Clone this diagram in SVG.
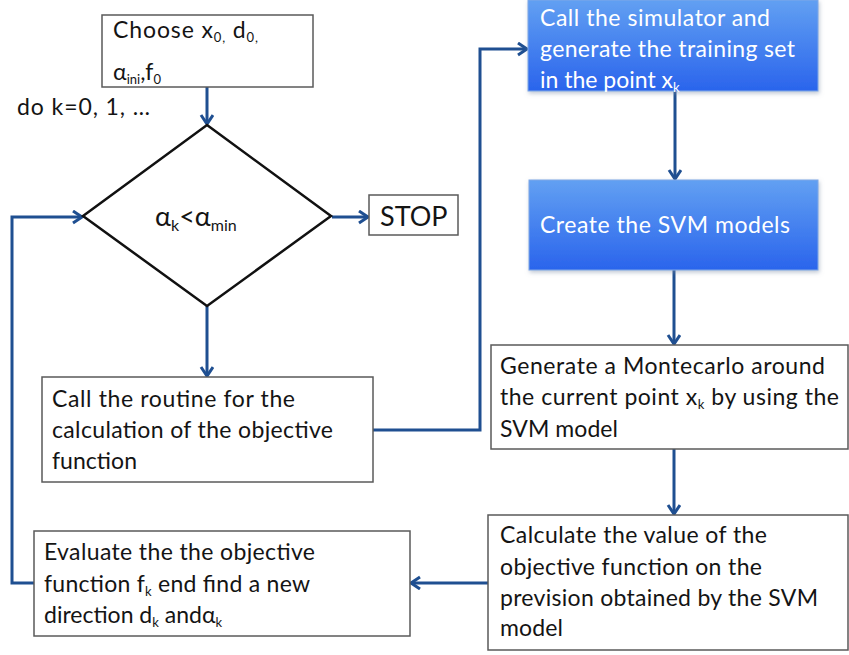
<svg xmlns="http://www.w3.org/2000/svg" width="849" height="655" viewBox="0 0 849 655">
<style>
  .box{fill:#ffffff;stroke:#5a5a5a;stroke-width:1.5}
  .blue{fill:url(#bg);stroke:#7fa8e6;stroke-width:1;filter:url(#sh)}
  .dia{fill:#ffffff;stroke:#111111;stroke-width:2.5}
  .t{font-family:Lato,"Liberation Sans",sans-serif;font-size:23px;fill:#141414}
  .s{font-family:Lato,"Liberation Sans",sans-serif;font-size:23px;fill:#141414}
  .d{font-family:Lato,"Liberation Sans",sans-serif;font-size:27px;fill:#141414}
  .w{font-family:Lato,"Liberation Sans",sans-serif;font-size:23px;fill:#ffffff}
  .sub{font-size:13px}
  .sub2{font-size:16px}
  .con{fill:none;stroke:#1f4f91;stroke-width:3;marker-end:url(#ah)}
</style>
<defs>
  <linearGradient id="bg" x1="0" y1="0" x2="0" y2="1">
    <stop offset="0" stop-color="#62a0f2"/>
    <stop offset="1" stop-color="#2a64ec"/>
  </linearGradient>
  <filter id="sh" x="-5%" y="-10%" width="110%" height="125%">
    <feDropShadow dx="1" dy="2" stdDeviation="2" flood-color="#7f8fa8" flood-opacity="0.5"/>
  </filter>
  <marker id="ah" markerUnits="userSpaceOnUse" markerWidth="16" markerHeight="16" refX="11" refY="7" orient="auto">
    <path d="M2,1 L11,7 L2,13" fill="none" stroke="#1f4f91" stroke-width="3" stroke-linejoin="miter"/>
  </marker>
</defs>

<g id="connectors">
  <path class="con" d="M207,87 V124"/>
  <path class="con" d="M332,217 H368"/>
  <path class="con" d="M207,306 V376"/>
  <path class="con" d="M373,430 H480 V49 H527"/>
  <path class="con" d="M675,91 V179"/>
  <path class="con" d="M674,270 V344"/>
  <path class="con" d="M674,449 V514"/>
  <path class="con" d="M488,583 H411"/>
  <path class="con" d="M34,583 H12 V217 H82"/>
</g>

<g id="start">
  <rect class="box" x="102" y="15" width="211" height="72"/>
  <text class="s" x="113" y="38" textLength="145">Choose x<tspan class="sub" dy="4">0,</tspan><tspan dy="-4"> d</tspan><tspan class="sub" dy="4">0,</tspan></text>
  <text class="s" x="113" y="80">α<tspan class="sub" dy="4">ini</tspan><tspan dy="-4">,f</tspan><tspan class="sub" dy="4">0</tspan></text>
</g>

<g id="loop-label">
  <text class="s" x="17" y="115" textLength="133">do k=0, 1, …</text>
</g>

<g id="decision">
  <polygon class="dia" points="207,125 331,216 207,306 83,216"/>
  <text class="d" x="155" y="226">α<tspan class="sub2" dy="5">k</tspan><tspan dy="-5">&lt;α</tspan><tspan class="sub2" dy="5">min</tspan></text>
</g>

<g id="stop">
  <rect class="box" x="369" y="195" width="89" height="40"/>
  <text class="d" x="380" y="226">STOP</text>
</g>

<g id="routine">
  <rect class="box" x="42" y="377" width="331" height="105"/>
  <text class="t" x="52" y="407" textLength="243">Call the routine for the</text>
  <text class="t" x="52" y="438" textLength="281">calculation of the objective</text>
  <text class="t" x="52" y="469" textLength="85">function</text>
</g>

<g id="simulator">
  <rect class="blue" x="528" y="0" width="290" height="91"/>
  <text class="w" x="540" y="26" textLength="230">Call the simulator and</text>
  <text class="w" x="540" y="57" textLength="255">generate the training set</text>
  <text class="w" x="540" y="88">in the point x<tspan class="sub" dy="4">k</tspan></text>
</g>

<g id="svm">
  <rect class="blue" x="529" y="180" width="289" height="90"/>
  <text class="w" x="540" y="233" textLength="250">Create the SVM models</text>
</g>

<g id="montecarlo">
  <rect class="box" x="491" y="345" width="357" height="104"/>
  <text class="t" x="500" y="374" textLength="325">Generate a Montecarlo around</text>
  <text class="t" x="500" y="405" textLength="339">the current point x<tspan class="sub" dy="4">k</tspan><tspan dy="-4"> by using the</tspan></text>
  <text class="t" x="500" y="437" textLength="118">SVM model</text>
</g>

<g id="calculate">
  <rect class="box" x="488" y="515" width="360" height="135"/>
  <text class="t" x="500" y="543" textLength="267">Calculate the value of the</text>
  <text class="t" x="500" y="575" textLength="262">objective function on the</text>
  <text class="t" x="500" y="606" textLength="318">prevision obtained by the SVM</text>
  <text class="t" x="500" y="636" textLength="63">model</text>
</g>

<g id="evaluate">
  <rect class="box" x="34" y="531" width="376" height="105"/>
  <text class="t" x="44" y="560" textLength="271">Evaluate the the objective</text>
  <text class="t" x="44" y="592" textLength="266">function f<tspan class="sub" dy="4">k</tspan><tspan dy="-4"> end find a new</tspan></text>
  <text class="t" x="44" y="623">direction d<tspan class="sub" dy="4">k</tspan><tspan dy="-4"> andα</tspan><tspan class="sub" dy="4">k</tspan></text>
</g>
</svg>
